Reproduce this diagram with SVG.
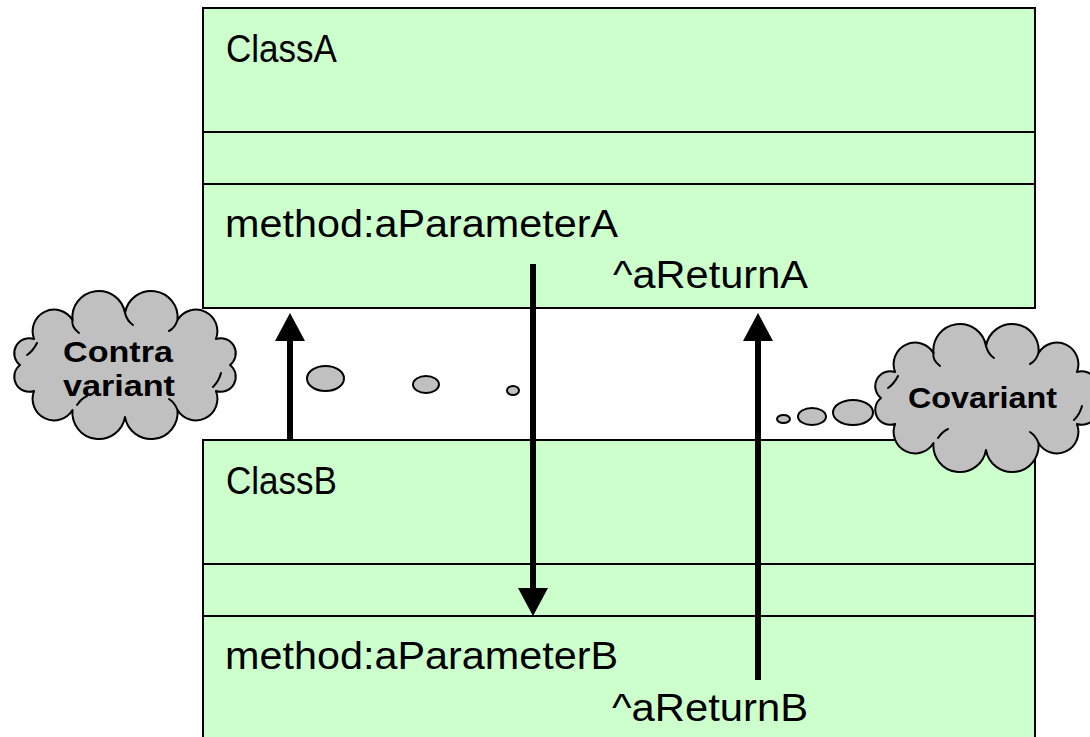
<svg xmlns="http://www.w3.org/2000/svg" width="1090" height="737" viewBox="0 0 1090 737">
  <style>
    .box { fill: #CCFFCC; stroke: #000; stroke-width: 2; }
    .sep { stroke: #000; stroke-width: 2; }
    .lbl { font-family: "Liberation Sans", Arial, sans-serif; font-size: 38px; fill: #000; }
    .note { font-family: "Liberation Sans", Arial, sans-serif; font-size: 30px; font-weight: bold; fill: #000; text-anchor: start; }
    .cloud { fill: #C0C0C0; stroke: #000; stroke-width: 2; stroke-linejoin: round; }
    .curl { fill: none; stroke: #000; stroke-width: 2; stroke-linecap: round; }
    .bubble { fill: #C0C0C0; stroke: #000; stroke-width: 2; }
    .shaft { stroke: #000; stroke-width: 6; fill: none; }
  </style>
  <defs>
    <marker id="head" markerUnits="userSpaceOnUse" markerWidth="30" markerHeight="32" viewBox="0 -16 30 32" refX="0" refY="0" orient="auto">
      <path d="M0,-15 L28,0 L0,15 z" fill="#000"/>
    </marker>
    <!-- cloud outline centred on (0,0): semicircular lobes between points on an ellipse -->
    <g id="cloudShape">
      <path class="cloud" d="M105,0 A15,15 0 0 1 90.9,26 A21.5,21.5 0 0 1 52.5,45 A26.5,26.5 0 0 1 0,52 A26.5,26.5 0 0 1 -52.5,45 A21.5,21.5 0 0 1 -90.9,26 A15,15 0 0 1 -105,0 A15,15 0 0 1 -90.9,-26 A21.5,21.5 0 0 1 -52.5,-45 A26.5,26.5 0 0 1 0,-52 A26.5,26.5 0 0 1 52.5,-45 A21.5,21.5 0 0 1 90.9,-26 A15,15 0 0 1 105,0 z"/>
      <path class="curl" d="M88,22 Q94,16 96,8"/>
      <path class="curl" d="M52.5,45 Q50,38 44,34"/>
      <path class="curl" d="M-48,40 Q-44,34 -38,31"/>
      <path class="curl" d="M-88,-22 Q-92,-14 -98,-10"/>
      <path class="curl" d="M-52.5,-45 Q-54,-38 -46,-32"/>
      <path class="curl" d="M0,-52 Q2,-44 8,-40"/>
      <path class="curl" d="M52.5,-45 Q50,-37 44,-34"/>
    </g>
  </defs>

  <!-- ClassA -->
  <g id="classA">
    <rect class="box" x="203" y="8" width="832" height="300"/>
    <line class="sep" x1="203" y1="132" x2="1035" y2="132"/>
    <line class="sep" x1="203" y1="184" x2="1035" y2="184"/>
    <text class="lbl" x="226" y="62" textLength="111" lengthAdjust="spacingAndGlyphs">ClassA</text>
    <text class="lbl" x="225" y="237" textLength="393" lengthAdjust="spacingAndGlyphs">method:aParameterA</text>
    <text class="lbl" x="613" y="288" textLength="195" lengthAdjust="spacingAndGlyphs">^aReturnA</text>
  </g>

  <!-- ClassB -->
  <g id="classB">
    <rect class="box" x="203" y="440" width="832" height="300"/>
    <line class="sep" x1="203" y1="564" x2="1035" y2="564"/>
    <line class="sep" x1="203" y1="616" x2="1035" y2="616"/>
    <text class="lbl" x="226" y="494" textLength="111" lengthAdjust="spacingAndGlyphs">ClassB</text>
    <text class="lbl" x="225" y="669" textLength="393" lengthAdjust="spacingAndGlyphs">method:aParameterB</text>
    <text class="lbl" x="612" y="721" textLength="196" lengthAdjust="spacingAndGlyphs">^aReturnB</text>
  </g>

  <!-- connectors -->
  <g id="connectors">
    <line class="shaft" x1="290" y1="440" x2="290" y2="341" marker-end="url(#head)"/>
    <line class="shaft" x1="533" y1="264" x2="533" y2="588" marker-end="url(#head)"/>
    <line class="shaft" x1="758" y1="680" x2="758" y2="341" marker-end="url(#head)"/>
  </g>

  <!-- Contra variant note -->
  <g id="contraNote">
    <use href="#cloudShape" transform="translate(125,365)"/>
    <ellipse class="bubble" cx="325.5" cy="378.5" rx="18.5" ry="12.5"/>
    <ellipse class="bubble" cx="426" cy="384.5" rx="13" ry="8.5"/>
    <ellipse class="bubble" cx="513" cy="390.5" rx="6" ry="4.5"/>
    <text class="note" x="63" y="362" textLength="110" lengthAdjust="spacingAndGlyphs">Contra</text>
    <text class="note" x="63" y="396" textLength="112" lengthAdjust="spacingAndGlyphs">variant</text>
  </g>

  <!-- Covariant note -->
  <g id="coNote">
    <use href="#cloudShape" transform="translate(986,398)"/>
    <ellipse class="bubble" cx="783.5" cy="419" rx="6.5" ry="4"/>
    <ellipse class="bubble" cx="812" cy="416.5" rx="14" ry="8.5"/>
    <ellipse class="bubble" cx="853" cy="412.5" rx="20" ry="12.5"/>
    <text class="note" x="908" y="408" textLength="149" lengthAdjust="spacingAndGlyphs">Covariant</text>
  </g>
</svg>
